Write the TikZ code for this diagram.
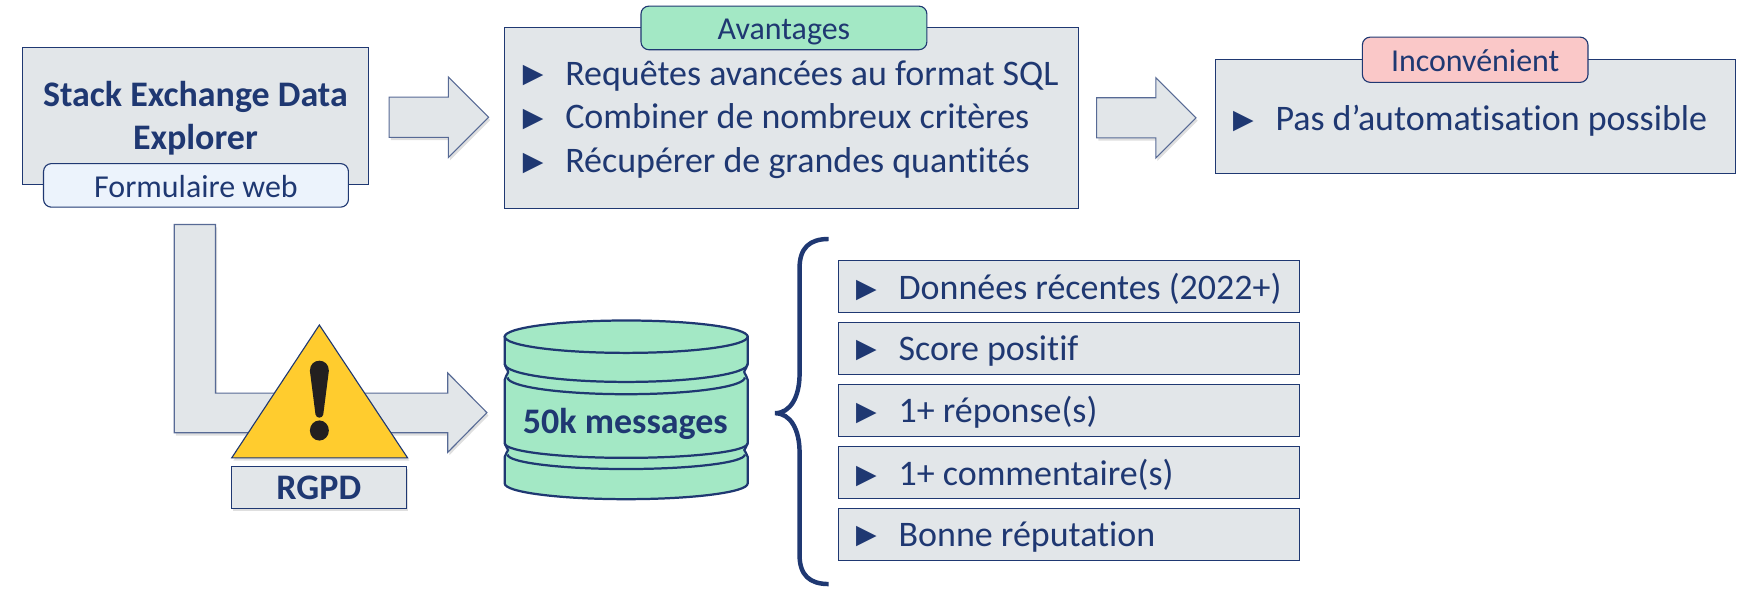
\documentclass[tikz,border=0pt]{standalone}
\usepackage{xcolor}
\usepackage{fontspec}
\setmainfont{Carlito}[Ligatures=NoCommon]
\newfontfamily\symb{DejaVu Sans}
\usetikzlibrary{positioning,shapes.arrows,shadows}
\definecolor{navy}{HTML}{1F3872}
\definecolor{gris}{HTML}{E2E6E9}
\definecolor{vert}{HTML}{A3E8C5}
\definecolor{bleu}{HTML}{ECF3FC}
\definecolor{rose}{HTML}{FAC8C8}
\definecolor{jaune}{HTML}{FFCC2E}
\definecolor{encre}{HTML}{231F20}
\newcommand{\puce}{\makebox[38pt][l]{\raisebox{2pt}{\fontsize{24}{24}\selectfont\symb\char"25B6}}}

\begin{document}
\begin{tikzpicture}[
  x=1pt, y=-1pt,
  every node/.style={text=navy, font=\fontsize{32.2}{39}\selectfont},
  gras/.style={font=\fontsize{32.2}{39}\selectfont\bfseries},
  ombre/.style={drop shadow={shadow xshift=1.5pt, shadow yshift=-2.5pt, opacity=.25}},
  box/.style={draw=navy, line width=1pt, fill=gris, inner sep=0pt},
  tag/.style={draw=navy, line width=1pt, rounded corners=7pt, inner sep=0pt, minimum height=39pt,
    text height=25pt, text depth=4pt, font=\fontsize{28.6}{34}\selectfont},
  ligne/.style={align=left, inner sep=0pt, anchor=west},
  fleche/.style={single arrow, draw=navy!75, line width=1pt, fill=gris, ombre, inner xsep=0pt, inner ysep=17.5pt,
    minimum height=89pt, single arrow head extend=18pt, single arrow tip angle=90},
  critere/.style={box, minimum width=413pt, minimum height=46.5pt},
  cyl/.style={draw=navy, line width=2pt, fill=vert},
  trait/.style={draw=navy, line width=2pt}
]
  \useasboundingbox (0,0) rectangle (1568,533.7);

  \node[box, minimum width=310pt, minimum height=123pt] (see) at (175,104) {};
  \node[gras, align=center, inner sep=0pt] (seetxt) at (175,106) {Stack Exchange Data\\Explorer};
  \node[tag, fill=bleu, minimum width=273pt] (form) at (175.5,166) {Formulaire web};

  \node[fleche, right=17.5pt of see.east, yshift=-1pt] (f1) {};

  \node[box, minimum width=514pt, minimum height=162pt] (av) at (709,105.5) {};
  \node[tag, fill=vert, minimum width=256pt] (avtag) at (702,25) {Avantages};
  \node[ligne] (avtxt) at (468,107) {\puce Requêtes avancées au format SQL\\\puce Combiner de nombreux critères\\\puce Récupérer de grandes quantités};

  \node[fleche, right=15pt of av.east] (f2) {};

  \node[box, minimum width=465.5pt, minimum height=102pt] (inc) at (1321.5,104) {};
  \node[tag, fill=rose, minimum width=202pt, minimum height=40.5pt] (inctag) at (1321,53.5) {Inconvénient};
  \node[ligne] (inctxt) at (1104,108) {\puce Pas d’automatisation possible};

  \coordinate (coude) at (156,201);
  \draw[navy!75, line width=1pt, fill=gris, ombre] (coude) -- ++(37,0) -- ++(0,151) -- ++(208,0) -- ++(0,-18)
    -- ++(35,35.5) -- ++(-35,35.5) -- ++(0,-17.5) -- ++(-245,0) -- cycle;

  \draw[navy, line width=1pt, fill=jaune, ombre] (286,291) -- (365,410) -- (207.5,410) -- cycle;
  \fill[encre] (277.5,332) .. controls (277.5,320) and (294.5,320) .. (294.5,332)
    -- (289.5,371) .. controls (289,375) and (283,375) .. (282.5,371) -- cycle;
  \fill[encre] (286,385.5) ellipse (8.5 and 9);
  \node[box, ombre, gras, minimum width=157pt, minimum height=37.5pt] (rgpd) at (285.5,436.5) {RGPD};

  \filldraw[cyl] (452,301.5) -- (452,326) .. controls (452,329) and (455,331) .. (455,333)
    .. controls (455,335) and (452,337) .. (452,340) -- (452,397) .. controls (452,400) and (455,401) .. (455,403)
    .. controls (455,405) and (452,406) .. (452,409) -- (452,433) arc (180:0:108.75 and 14) -- (669.5,409)
    .. controls (669.5,406) and (666.5,405) .. (666.5,403) .. controls (666.5,401) and (669.5,400) .. (669.5,397)
    -- (669.5,340) .. controls (669.5,337) and (666.5,335) .. (666.5,333) .. controls (666.5,331) and (669.5,329) .. (669.5,326)
    -- (669.5,301.5) -- cycle;
  \filldraw[cyl] (560.75,301.5) ellipse (108.75 and 14.5);
  \draw[trait] (452,326) arc (180:0:108.75 and 16);
  \draw[trait] (454.5,338) arc (180:0:106.25 and 15);
  \draw[trait] (452,397) arc (180:0:108.75 and 13);
  \draw[trait] (454.5,407) arc (180:0:106.25 and 13);
  \node[gras, inner sep=0pt] (msg) at (560,380) {50k messages};

  \draw[navy, line width=4pt] (742,214) .. controls (725,214) and (716,222) .. (716,240) -- (716,335)
    .. controls (716,355) and (708,370) .. (694,370) .. controls (708,370) and (716,385) .. (716,405)
    -- (716,497) .. controls (716,515) and (725,523) .. (742,523);

  \node[critere] (c1) at (957.5,256.5) {};
  \node[critere, below=8pt of c1] (c2) {};
  \node[critere, below=8pt of c2] (c3) {};
  \node[critere, below=8pt of c3] (c4) {};
  \node[critere, below=8pt of c4] (c5) {};
  \node[ligne, right=16pt of c1.west, yshift=-2pt] (t1) {\puce Données récentes (2022+)};
  \node[ligne, right=16pt of c2.west, yshift=-2pt] (t2) {\puce Score positif};
  \node[ligne, right=16pt of c3.west, yshift=-2pt] (t3) {\puce 1+ réponse(s)};
  \node[ligne, right=16pt of c4.west, yshift=-2pt] (t4) {\puce 1+ commentaire(s)};
  \node[ligne, right=16pt of c5.west, yshift=-2pt] (t5) {\puce Bonne réputation};
\end{tikzpicture}
\end{document}
